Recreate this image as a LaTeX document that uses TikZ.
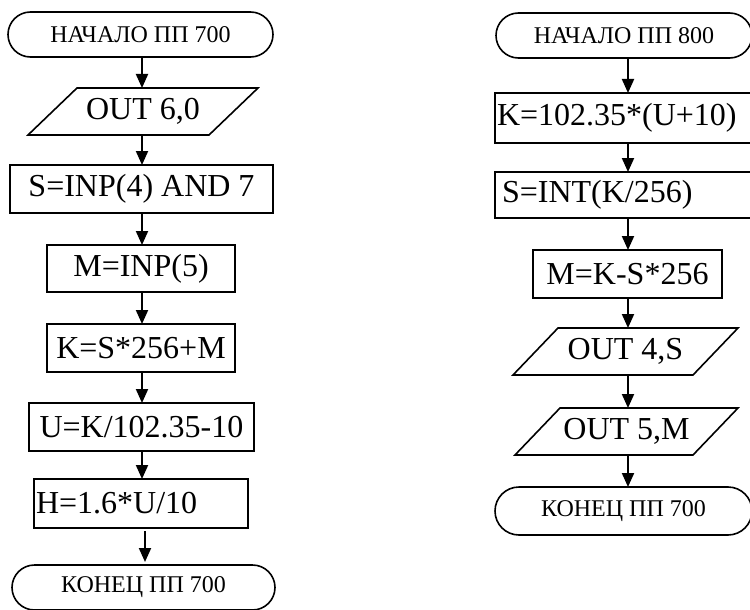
\documentclass[tikz,border=0pt]{standalone}
\usepackage{fontspec}
\setmainfont{Liberation Serif}
\usetikzlibrary{arrows.meta,calc}
\begin{document}
\begin{tikzpicture}[x=1pt,y=-1pt,
  every node/.style={inner sep=0pt, outer sep=0pt},
  blk/.style={draw, line width=1.6pt, font=\fontsize{32}{38}\selectfont},
  io/.style={font=\fontsize{32}{38}\selectfont},
  iobord/.style={line width=1.6pt, line join=miter},
  term/.style={draw, line width=1.6pt, rounded corners=22.5pt, font=\fontsize{24}{28}\selectfont},
  arr/.style={line width=2pt, -{Triangle[width=12pt,length=14pt]}}
]
\useasboundingbox (0,0) rectangle (750,610);
\clip (0,0) rectangle (750,610);

% left column
\node[term, minimum width=265pt, minimum height=45pt] (t1) at (140.5,34.5) {НАЧАЛО ПП 700};
\node[io, minimum width=181pt, minimum height=47pt] (p1) at (143,111.5) {OUT 6,0};
\draw[iobord] ([xshift=-24.5pt]p1.south west) -- ([xshift=24.5pt]p1.north west) -- ([xshift=24.5pt]p1.north east) -- ([xshift=-24.5pt]p1.south east) -- cycle;
\node[blk, minimum width=263pt, minimum height=48pt] (b1) at (141.5,189) {S=INP(4) AND 7};
\node[blk, minimum width=188pt, minimum height=47pt] (b2) at (141,268.5) {M=INP(5)};
\node[blk, minimum width=188pt, minimum height=48pt] (b3) at (141,348) {K=S*256+M};
\node[blk, minimum width=225pt, minimum height=48pt] (b4) at (141.5,427) {U=K/102.35-10};
\node[blk, minimum height=49pt, text width=210pt, align=left, inner xsep=2pt] (b5) at (141,503.5) {H=1.6*U/10};
\node[term, minimum width=263pt, minimum height=45pt] (t2) at (143.5,587.5) {КОНЕЦ ПП 700};

% right column
\node[term, minimum width=256pt, minimum height=45pt] (t3) at (624,35.5) {НАЧАЛО ПП 800};
\node[blk, minimum height=50pt, text width=261pt, align=left, inner xsep=2pt] (b6) at (627.5,118) {K=102.35*(U+10)};
\node[blk, minimum height=46pt, text width=251pt, align=left, inner xsep=7pt] (b7) at (627.5,195) {S=INT(K/256)};
\node[blk, minimum width=189pt, minimum height=48pt] (b8) at (627.5,274) {M=K-S*256};
\node[io, minimum width=180pt, minimum height=47pt] (p2) at (625.5,351.5) {OUT 4,S};
\draw[iobord] ([xshift=-22.5pt]p2.south west) -- ([xshift=22.5pt]p2.north west) -- ([xshift=22.5pt]p2.north east) -- ([xshift=-22.5pt]p2.south east) -- cycle;
\node[io, minimum width=178pt, minimum height=47pt] (p3) at (626.5,431.5) {OUT 5,M};
\draw[iobord] ([xshift=-22.5pt]p3.south west) -- ([xshift=22.5pt]p3.north west) -- ([xshift=22.5pt]p3.north east) -- ([xshift=-22.5pt]p3.south east) -- cycle;
\node[term, minimum width=257pt, minimum height=48pt, rounded corners=24pt] (t4) at (623.5,511) {КОНЕЦ ПП 700};

% connectors
\coordinate (cL) at (142,0);
\coordinate (cL2) at (145,0);
\coordinate (cR) at (628,0);
\draw[arr] (t1.south -| cL) -- (p1.north -| cL);
\draw[arr] (p1.south -| cL) -- (b1.north -| cL);
\draw[arr] (b1.south -| cL) -- (b2.north -| cL);
\draw[arr] (b2.south -| cL) -- (b3.north -| cL);
\draw[arr] (b3.south -| cL) -- (b4.north -| cL);
\draw[arr] (b4.south -| cL) -- (b5.north -| cL);
\draw[arr] ([yshift=-3pt]b5.south -| cL2) -- ([yshift=3pt]t2.north -| cL2);

\draw[arr] (t3.south -| cR) -- (b6.north -| cR);
\draw[arr] (b6.south -| cR) -- (b7.north -| cR);
\draw[arr] (b7.south -| cR) -- (b8.north -| cR);
\draw[arr] (b8.south -| cR) -- (p2.north -| cR);
\draw[arr] (p2.south -| cR) -- (p3.north -| cR);
\draw[arr] (p3.south -| cR) -- (t4.north -| cR);
\end{tikzpicture}
\end{document}
